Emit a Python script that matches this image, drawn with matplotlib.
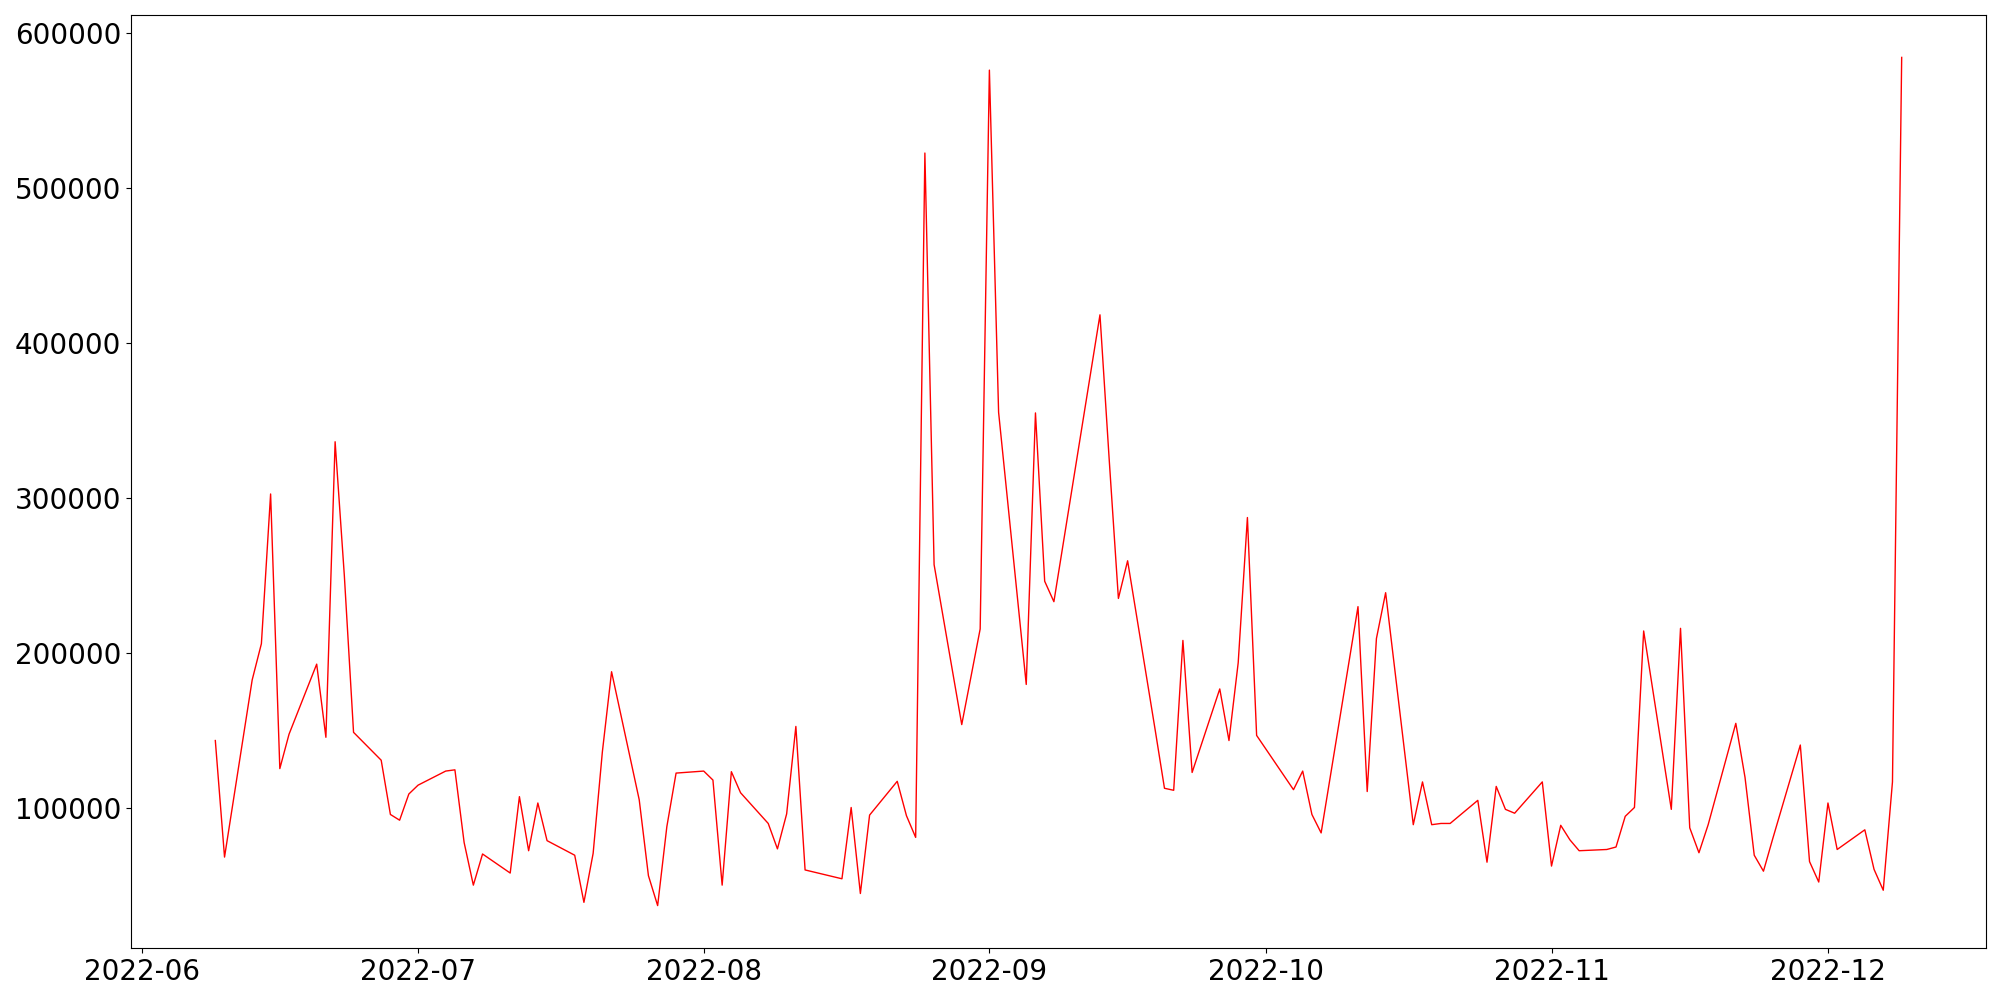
import pandas as pd
import matplotlib
matplotlib.use("Agg")
import matplotlib.pyplot as plt

# trading days (Korean market calendar, holidays skipped)
dates = [
    "2022-06-09", "2022-06-10", "2022-06-13", "2022-06-14", "2022-06-15", "2022-06-16", "2022-06-17",
    "2022-06-20", "2022-06-21", "2022-06-22", "2022-06-23", "2022-06-24",
    "2022-06-27", "2022-06-28", "2022-06-29", "2022-06-30", "2022-07-01",
    "2022-07-04", "2022-07-05", "2022-07-06", "2022-07-07", "2022-07-08",
    "2022-07-11", "2022-07-12", "2022-07-13", "2022-07-14", "2022-07-15",
    "2022-07-18", "2022-07-19", "2022-07-20", "2022-07-21", "2022-07-22",
    "2022-07-25", "2022-07-26", "2022-07-27", "2022-07-28", "2022-07-29",
    "2022-08-01", "2022-08-02", "2022-08-03", "2022-08-04", "2022-08-05",
    "2022-08-08", "2022-08-09", "2022-08-10", "2022-08-11", "2022-08-12",
    "2022-08-16", "2022-08-17", "2022-08-18", "2022-08-19",
    "2022-08-22", "2022-08-23", "2022-08-24", "2022-08-25", "2022-08-26",
    "2022-08-29", "2022-08-30", "2022-08-31", "2022-09-01", "2022-09-02",
    "2022-09-05", "2022-09-06", "2022-09-07", "2022-09-08",
    "2022-09-13", "2022-09-14", "2022-09-15", "2022-09-16",
    "2022-09-19", "2022-09-20", "2022-09-21", "2022-09-22", "2022-09-23",
    "2022-09-26", "2022-09-27", "2022-09-28", "2022-09-29", "2022-09-30",
    "2022-10-04", "2022-10-05", "2022-10-06", "2022-10-07",
    "2022-10-11", "2022-10-12", "2022-10-13", "2022-10-14",
    "2022-10-17", "2022-10-18", "2022-10-19", "2022-10-20", "2022-10-21",
    "2022-10-24", "2022-10-25", "2022-10-26", "2022-10-27", "2022-10-28",
    "2022-10-31", "2022-11-01", "2022-11-02", "2022-11-03", "2022-11-04",
    "2022-11-07", "2022-11-08", "2022-11-09", "2022-11-10", "2022-11-11",
    "2022-11-14", "2022-11-15", "2022-11-16", "2022-11-17", "2022-11-18",
    "2022-11-21", "2022-11-22", "2022-11-23", "2022-11-24", "2022-11-25",
    "2022-11-28", "2022-11-29", "2022-11-30", "2022-12-01", "2022-12-02",
    "2022-12-05", "2022-12-06", "2022-12-07", "2022-12-08", "2022-12-09",
]

volumes = [
    143500, 68300, 182600, 206000, 302600, 125400, 147600,
    192800, 145600, 336300, 250000, 148800,
    130800, 95800, 92100, 109000, 114700,
    123800, 124600, 77700, 50200, 70300,
    58000, 107300, 72400, 103200, 78900,
    69500, 39100, 70700, 136100, 187900,
    105300, 56300, 37000, 88000, 122500,
    123800, 118000, 50200, 123400, 109800,
    90000, 73600, 96200, 152600, 60000,
    54300, 100300, 44800, 95400,
    117200, 95000, 81000, 522600, 257000,
    153800, 184600, 215500, 576100, 355300,
    179700, 354900, 246300, 233100,
    418200, 325000, 235200, 259500,
    150000, 112700, 111400, 208100, 122900,
    176800, 143500, 193700, 287400, 146800,
    111800, 123800, 95800, 83900,
    229900, 110600, 209300, 238900,
    89200, 116800, 89200, 90000, 90000,
    104900, 65000, 113900, 99100, 96600,
    116800, 62500, 88800, 79400, 72400,
    73200, 74800, 94600, 100300, 214200,
    99100, 215900, 87200, 71100, 89200,
    154600, 119700, 69500, 59200, 80000,
    140600, 65400, 52200, 103200, 73200,
    85900, 60400, 46900, 116800, 584300,
]

x = pd.to_datetime(dates)

fig, ax = plt.subplots(figsize=(20, 10), dpi=100)
ax.plot(x, volumes, color='red', linewidth=1)
ax.tick_params(axis='both', labelsize=20)
fig.subplots_adjust(left=0.0655, right=0.993, top=0.985, bottom=0.052)
fig.savefig("out.png")
